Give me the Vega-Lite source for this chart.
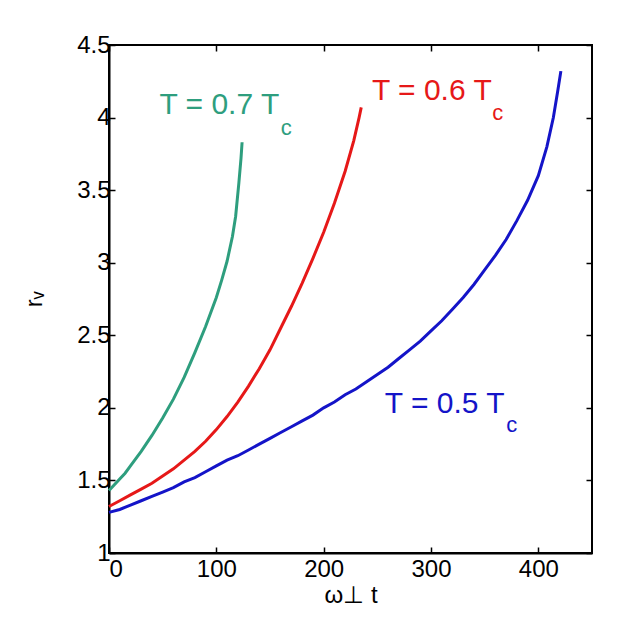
{
  "$schema": "https://vega.github.io/schema/vega-lite/v6.json",
  "width": 483,
  "height": 508,
  "autosize": "none",
  "padding": {"left": 109, "top": 45, "right": 26, "bottom": 68},
  "background": "white",
  "config": {
    "font": "Liberation Sans",
    "view": {"stroke": "black", "strokeWidth": 2},
    "axis": {"grid": false, "domainColor": "black", "domainWidth": 2, "tickColor": "black", "tickWidth": 1.5, "tickSize": -6, "labelColor": "black", "labelFont": "Liberation Sans", "labelFontSize": 24, "titleFont": "Liberation Sans", "titleFontSize": 24, "titleFontWeight": "normal", "titleColor": "black"}
  },
  "datasets": {
    "curves": [
      {"series": "0.5", "t": 0, "r": 1.28}, {"series": "0.5", "t": 10, "r": 1.30}, {"series": "0.5", "t": 20, "r": 1.33}, {"series": "0.5", "t": 30, "r": 1.36}, {"series": "0.5", "t": 40, "r": 1.39}, {"series": "0.5", "t": 50, "r": 1.42}, {"series": "0.5", "t": 60, "r": 1.45}, {"series": "0.5", "t": 70, "r": 1.49}, {"series": "0.5", "t": 80, "r": 1.52}, {"series": "0.5", "t": 90, "r": 1.56}, {"series": "0.5", "t": 100, "r": 1.60}, {"series": "0.5", "t": 110, "r": 1.64}, {"series": "0.5", "t": 120, "r": 1.67}, {"series": "0.5", "t": 130, "r": 1.71}, {"series": "0.5", "t": 140, "r": 1.75}, {"series": "0.5", "t": 150, "r": 1.79}, {"series": "0.5", "t": 160, "r": 1.83}, {"series": "0.5", "t": 170, "r": 1.87}, {"series": "0.5", "t": 180, "r": 1.91}, {"series": "0.5", "t": 190, "r": 1.95}, {"series": "0.5", "t": 200, "r": 2.00}, {"series": "0.5", "t": 210, "r": 2.04}, {"series": "0.5", "t": 220, "r": 2.09}, {"series": "0.5", "t": 230, "r": 2.13}, {"series": "0.5", "t": 240, "r": 2.18}, {"series": "0.5", "t": 250, "r": 2.23}, {"series": "0.5", "t": 260, "r": 2.28}, {"series": "0.5", "t": 270, "r": 2.34}, {"series": "0.5", "t": 280, "r": 2.40}, {"series": "0.5", "t": 290, "r": 2.46}, {"series": "0.5", "t": 300, "r": 2.53}, {"series": "0.5", "t": 310, "r": 2.60}, {"series": "0.5", "t": 320, "r": 2.68}, {"series": "0.5", "t": 330, "r": 2.76}, {"series": "0.5", "t": 340, "r": 2.85}, {"series": "0.5", "t": 350, "r": 2.95}, {"series": "0.5", "t": 360, "r": 3.05}, {"series": "0.5", "t": 370, "r": 3.16}, {"series": "0.5", "t": 380, "r": 3.29}, {"series": "0.5", "t": 390, "r": 3.43}, {"series": "0.5", "t": 400, "r": 3.60}, {"series": "0.5", "t": 408, "r": 3.80}, {"series": "0.5", "t": 414, "r": 4.00}, {"series": "0.5", "t": 418, "r": 4.18}, {"series": "0.5", "t": 421, "r": 4.32},
      {"series": "0.6", "t": 0, "r": 1.32}, {"series": "0.6", "t": 10, "r": 1.36}, {"series": "0.6", "t": 20, "r": 1.40}, {"series": "0.6", "t": 30, "r": 1.44}, {"series": "0.6", "t": 40, "r": 1.48}, {"series": "0.6", "t": 50, "r": 1.53}, {"series": "0.6", "t": 60, "r": 1.58}, {"series": "0.6", "t": 70, "r": 1.64}, {"series": "0.6", "t": 80, "r": 1.70}, {"series": "0.6", "t": 90, "r": 1.77}, {"series": "0.6", "t": 100, "r": 1.85}, {"series": "0.6", "t": 110, "r": 1.94}, {"series": "0.6", "t": 120, "r": 2.04}, {"series": "0.6", "t": 130, "r": 2.15}, {"series": "0.6", "t": 140, "r": 2.27}, {"series": "0.6", "t": 150, "r": 2.40}, {"series": "0.6", "t": 160, "r": 2.55}, {"series": "0.6", "t": 170, "r": 2.70}, {"series": "0.6", "t": 180, "r": 2.86}, {"series": "0.6", "t": 190, "r": 3.03}, {"series": "0.6", "t": 200, "r": 3.21}, {"series": "0.6", "t": 210, "r": 3.41}, {"series": "0.6", "t": 220, "r": 3.63}, {"series": "0.6", "t": 228, "r": 3.84}, {"series": "0.6", "t": 233, "r": 4.00}, {"series": "0.6", "t": 235, "r": 4.07},
      {"series": "0.7", "t": 0, "r": 1.43}, {"series": "0.7", "t": 5, "r": 1.47}, {"series": "0.7", "t": 10, "r": 1.51}, {"series": "0.7", "t": 15, "r": 1.55}, {"series": "0.7", "t": 20, "r": 1.60}, {"series": "0.7", "t": 25, "r": 1.65}, {"series": "0.7", "t": 30, "r": 1.70}, {"series": "0.7", "t": 40, "r": 1.81}, {"series": "0.7", "t": 50, "r": 1.93}, {"series": "0.7", "t": 60, "r": 2.06}, {"series": "0.7", "t": 70, "r": 2.21}, {"series": "0.7", "t": 80, "r": 2.38}, {"series": "0.7", "t": 90, "r": 2.56}, {"series": "0.7", "t": 100, "r": 2.76}, {"series": "0.7", "t": 105, "r": 2.88}, {"series": "0.7", "t": 110, "r": 3.01}, {"series": "0.7", "t": 115, "r": 3.18}, {"series": "0.7", "t": 118, "r": 3.32}, {"series": "0.7", "t": 121, "r": 3.55}, {"series": "0.7", "t": 123, "r": 3.72}, {"series": "0.7", "t": 124, "r": 3.83}
    ],
    "labels": [
      {"series": "0.7", "t": 47, "r": 4.09, "text": "T = 0.7 T"},
      {"series": "0.6", "t": 245, "r": 4.18, "text": "T = 0.6 T"},
      {"series": "0.5", "t": 257, "r": 2.03, "text": "T = 0.5 T"}
    ],
    "subs": [
      {"series": "0.7", "t": 160, "r": 3.93, "text": "c"},
      {"series": "0.6", "t": 357, "r": 4.03, "text": "c"},
      {"series": "0.5", "t": 370, "r": 1.88, "text": "c"}
    ]
  },
  "layer": [
    {
      "data": {"name": "curves"},
      "mark": {"type": "line", "strokeWidth": 3},
      "encoding": {
        "x": {"field": "t", "type": "quantitative", "scale": {"domain": [0, 450], "nice": false, "zero": false}, "axis": {"values": [0, 100, 200, 300, 400], "title": "ω⊥ t", "labelPadding": 10, "titlePadding": 2}},
        "y": {"field": "r", "type": "quantitative", "scale": {"domain": [1, 4.5], "nice": false, "zero": false}, "axis": {"values": [1, 1.5, 2, 2.5, 3, 3.5, 4, 4.5], "format": "~g", "title": "rᵥ", "labelPadding": 5, "titlePadding": 30}},
        "color": {"field": "series", "type": "nominal", "scale": {"domain": ["0.5", "0.6", "0.7"], "range": ["#1414c8", "#e61818", "#2e9e7e"]}, "legend": null},
        "detail": {"field": "series"}
      }
    },
    {
      "data": {"name": "curves"},
      "mark": {"type": "line", "opacity": 0},
      "encoding": {
        "x": {"field": "t", "type": "quantitative", "axis": {"orient": "top", "values": [0, 100, 200, 300, 400], "labels": false, "title": null, "domain": false}},
        "y": {"field": "r", "type": "quantitative", "axis": {"orient": "right", "values": [1, 1.5, 2, 2.5, 3, 3.5, 4, 4.5], "labels": false, "title": null, "domain": false}},
        "detail": {"field": "series"}
      }
    },
    {
      "data": {"name": "labels"},
      "mark": {"type": "text", "align": "left", "baseline": "middle", "fontSize": 30, "font": "Liberation Sans"},
      "encoding": {
        "x": {"field": "t", "type": "quantitative", "axis": null},
        "y": {"field": "r", "type": "quantitative", "axis": null},
        "text": {"field": "text"},
        "color": {"field": "series", "type": "nominal", "legend": null}
      }
    },
    {
      "data": {"name": "subs"},
      "mark": {"type": "text", "align": "left", "baseline": "middle", "fontSize": 22, "font": "Liberation Sans"},
      "encoding": {
        "x": {"field": "t", "type": "quantitative", "axis": null},
        "y": {"field": "r", "type": "quantitative", "axis": null},
        "text": {"field": "text"},
        "color": {"field": "series", "type": "nominal", "legend": null}
      }
    }
  ],
  "resolve": {"axis": {"x": "independent", "y": "independent"}}
}
